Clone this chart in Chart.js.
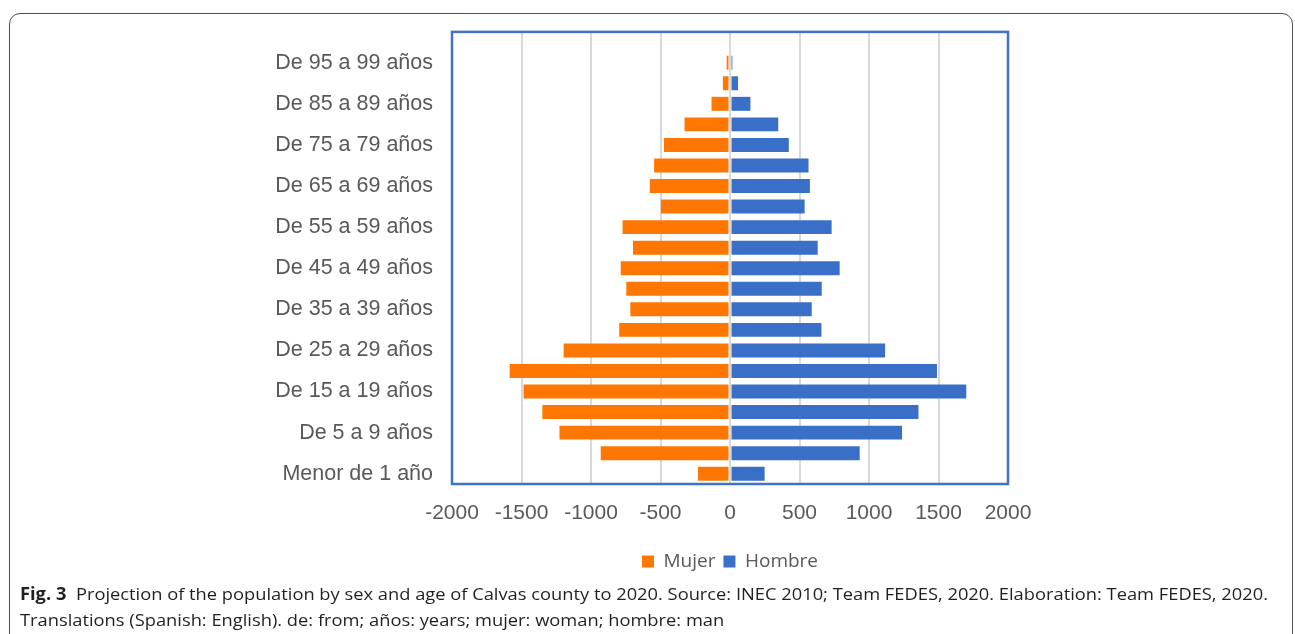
<!DOCTYPE html>
<html>
<head>
<meta charset="utf-8">
<script src="https://cdn.jsdelivr.net/npm/chart.js@4/dist/chart.umd.min.js"></script>
<style>
  html, body { margin: 0; padding: 0; background: #fff; }
  body { width: 1295px; height: 634px; position: relative; overflow: hidden; }
  #frame {
    position: absolute; left: 9px; top: 13px; width: 1284px; height: 700px;
    border: 1.5px solid #505050; border-radius: 11px; box-sizing: border-box;
  }
  #wrap { position: absolute; left: 0; top: 0; width: 1295px; height: 634px; }
  #caption {
    position: absolute; left: 20px; top: 581px;
    font-family: "Open Sans", "Noto Sans", sans-serif; font-size: 17px;
    line-height: 26px; color: #231f20; white-space: nowrap;
    transform-origin: left top;
  }
  #caption b { font-weight: 700; }
</style>
</head>
<body>
<div id="frame"></div>
<div id="wrap"><canvas id="chart" width="1295" height="634"></canvas></div>
<div id="caption"><span id="line1"><b>Fig. 3</b>&nbsp; Projection of the population by sex and age of Calvas county to 2020. Source: INEC 2010; Team FEDES, 2020. Elaboration: Team FEDES, 2020.</span><br>Translations (Spanish: English). de: from; años: years; mujer: woman; hombre: man</div>
<script>
// Age groups, youngest first (drawn from the bottom up)
const ageGroups = [
  "Menor de 1 año", "De 1 a 4 años", "De 5 a 9 años", "De 10 a 14 años",
  "De 15 a 19 años", "De 20 a 24 años", "De 25 a 29 años", "De 30 a 34 años",
  "De 35 a 39 años", "De 40 a 44 años", "De 45 a 49 años", "De 50 a 54 años",
  "De 55 a 59 años", "De 60 a 64 años", "De 65 a 69 años", "De 70 a 74 años",
  "De 75 a 79 años", "De 80 a 84 años", "De 85 a 89 años", "De 90 a 94 años",
  "De 95 a 99 años", "De 100 años y más"
];

// Projected population 2020, Calvas county
const mujer = [230, 930, 1227, 1350, 1485, 1585, 1197, 797, 717, 746, 786, 698,
               773, 497, 577, 546, 475, 327, 133, 51, 24, null];
const hombre = [249, 933, 1238, 1356, 1700, 1489, 1116, 658, 588, 660, 789, 631,
                731, 537, 575, 565, 423, 347, 147, 58, 17, null];

// Value axis ticks
const xTickMin = -2000;
const xTickMax = 2000;
const xTickStep = 500;

const ORANGE = "#ff7700";
const BLUE = "#3a6fc8";
const TEXT = "#595959";
const GRID = "#d9d9d9";

// Zero line drawn over the bars, with a thin white margin on each side
const zeroLine = {
  id: "zeroLine",
  afterDatasetsDraw(chart) {
    const { ctx, chartArea: a, scales: { x } } = chart;
    const x0 = Math.round(x.getPixelForValue(0));
    ctx.save();
    ctx.fillStyle = "#ffffff";
    ctx.fillRect(x0 - 1.5, a.top, 3, a.bottom - a.top);
    ctx.fillStyle = GRID;
    ctx.fillRect(x0 - 1, a.top, 2, a.bottom - a.top);
    ctx.restore();
  }
};

// Blue frame around the plot area
const plotFrame = {
  id: "plotFrame",
  afterDraw(chart) {
    const { ctx, chartArea: a } = chart;
    ctx.save();
    ctx.strokeStyle = "#3f72c8";
    ctx.lineWidth = 2.5;
    ctx.strokeRect(a.left, a.top, a.right - a.left, a.bottom - a.top);
    ctx.restore();
  }
};

new Chart(document.getElementById("chart"), {
  type: "bar",
  data: {
    labels: ageGroups,
    datasets: [
      {
        label: "Mujer",
        data: mujer.map(v => (v === null ? null : -v)),
        backgroundColor: ORANGE,
        borderWidth: 0
      },
      {
        label: "Hombre",
        data: hombre,
        backgroundColor: BLUE,
        borderWidth: 0
      }
    ]
  },
  options: {
    indexAxis: "y",
    responsive: false,
    animation: false,
    devicePixelRatio: 1,
    layout: { padding: { left: 0, top: 31, right: 287, bottom: 53 } },
    datasets: { bar: { barPercentage: 0.68, categoryPercentage: 1 } },
    scales: {
      x: {
        stacked: true,
        min: xTickMin,
        max: xTickMax,
        ticks: {
          stepSize: xTickStep,
          color: TEXT,
          padding: 17,
          font: { family: "Liberation Sans, Arial, sans-serif", size: 21 },
          maxRotation: 0,
          callback(value) { return String(value); }
        },
        grid: { color: GRID, lineWidth: 2, drawTicks: false },
        border: { display: false },
        afterFit(scale) { scale.height = 60; }
      },
      y: {
        stacked: true,
        reverse: true,
        ticks: {
          autoSkip: false,
          color: TEXT,
          padding: 19,
          font: { family: "Liberation Sans, Arial, sans-serif", size: 21.5 },
          callback(value, index) { return index % 2 === 0 ? this.getLabelForValue(value) : ""; }
        },
        grid: { display: false, drawTicks: false },
        border: { display: false },
        afterFit(scale) { scale.width = 452; }
      }
    },
    plugins: {
      legend: {
        position: "bottom",
        fullSize: false,
        labels: {
          color: TEXT,
          boxWidth: 12,
          boxHeight: 12,
          padding: 8,
          font: { family: "Open Sans, Noto Sans, sans-serif", size: 19 }
        }
      },
      tooltip: { enabled: false }
    }
  },
  plugins: [zeroLine, plotFrame]
});

// Fit the condensed caption to its column width
(function () {
  const cap = document.getElementById("caption");
  const w = document.getElementById("line1").getBoundingClientRect().width;
  cap.style.transform = "scaleX(" + (1248 / w) + ")";
})();
</script>
</body>
</html>
